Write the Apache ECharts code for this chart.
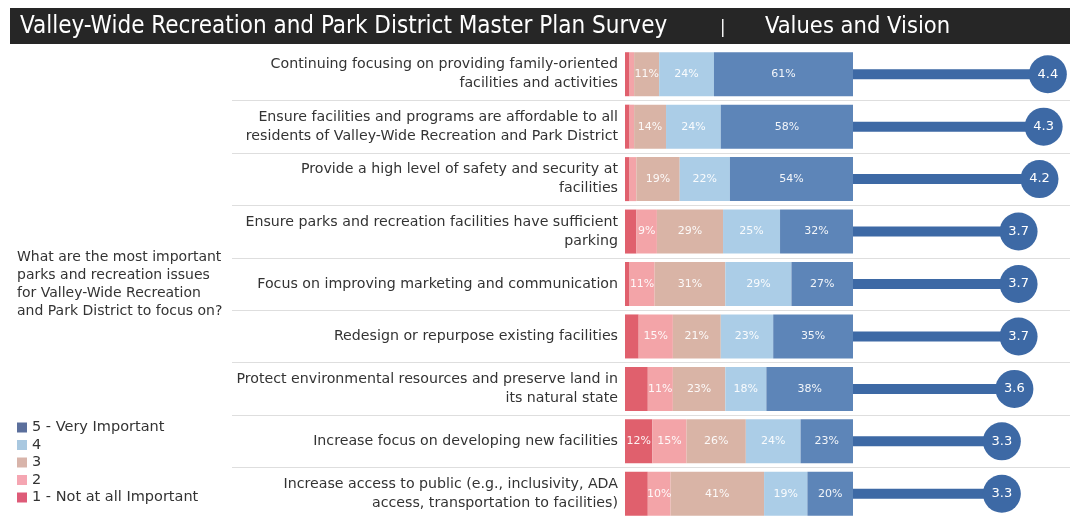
<!DOCTYPE html>
<html>
<head>
<meta charset="utf-8">
<script src="https://cdn.jsdelivr.net/npm/echarts@6/dist/echarts.min.js"></script>
<style>
  html, body { margin: 0; padding: 0; background: #fff; }
  #chart { width: 1070px; height: 520px; }
</style>
</head>
<body>
<div id="chart"></div>
<script>
// survey items, top to bottom
const issues = [
  'Continuing focusing on providing family-oriented\nfacilities and activities',
  'Ensure facilities and programs are affordable to all\nresidents of Valley-Wide Recreation and Park District',
  'Provide a high level of safety and security at\nfacilities',
  'Ensure parks and recreation facilities have sufficient\nparking',
  'Focus on improving marketing and communication',
  'Redesign or repurpose existing facilities',
  'Protect environmental resources and preserve land in\nits natural state',
  'Increase focus on developing new facilities',
  'Increase access to public (e.g., inclusivity, ADA\naccess, transportation to facilities)'
];
// percent of answers per rating
const notImportant  = [2, 2, 2, 5, 2, 6, 10, 12, 10];
const rating2       = [2, 2, 3, 9, 11, 15, 11, 15, 10];
const rating3       = [11, 14, 19, 29, 31, 21, 23, 26, 41];
const rating4       = [24, 24, 22, 25, 29, 23, 18, 24, 19];
const veryImportant = [61, 58, 54, 32, 27, 35, 38, 23, 20];
// mean rating
const means = [4.4, 4.3, 4.2, 3.7, 3.7, 3.7, 3.6, 3.3, 3.3];

const ratingNames = ['1 - Not at all Important', '2', '3', '4', '5 - Very Important'];
const ratingData = [notImportant, rating2, rating3, rating4, veryImportant];
const ratingColors = ['#e0606d', '#f3a4a8', '#d9b4a6', '#abcde7', '#5d85b8'];
const legendColors = ['#de5b78', '#f5a6b2', '#d8b4aa', '#a9c8e0', '#5b6f9c'];
const labelMin = [11, 9, 9, 9, 9];
const navy = '#3d69a5';
const stickFrom = -0.26;
const textFont = '"DejaVu Sans", sans-serif';
const headFont = '"Liberation Sans Narrow", "DejaVu Sans Condensed", sans-serif';

const chart = echarts.init(document.getElementById('chart'));

const barSeries = ratingData.map((vals, i) => ({
  name: ratingNames[i],
  type: 'bar',
  stack: 'pct',
  xAxisIndex: 0,
  yAxisIndex: 0,
  barWidth: 44,
  itemStyle: { color: ratingColors[i] },
  label: {
    show: true,
    color: 'rgba(255,255,255,0.92)',
    fontSize: 11,
    fontFamily: textFont,
    formatter: p => (p.value >= labelMin[i] ? p.value + '%' : '')
  },
  data: vals
}));

chart.setOption({
  animation: false,
  graphic: [
    { type: 'rect', shape: { x: 10, y: 8, width: 1060, height: 36 }, style: { fill: '#262626' } },
    { type: 'text', x: 20, y: 27, style: { text: 'Valley-Wide Recreation and Park District Master Plan Survey', fill: '#fff', font: '24px ' + headFont, verticalAlign: 'middle' } },
    { type: 'text', x: 720, y: 28, style: { text: '|', fill: '#fff', font: '18px ' + headFont, verticalAlign: 'middle' } },
    { type: 'text', x: 765, y: 27, style: { text: 'Values and Vision', fill: '#fff', font: '23.5px ' + headFont, verticalAlign: 'middle' } },
    { type: 'text', x: 17, y: 248, style: { text: 'What are the most important\nparks and recreation issues\nfor Valley-Wide Recreation\nand Park District to focus on?', fill: '#333', font: '14px ' + textFont, lineHeight: 18 } }
  ],
  legend: {
    orient: 'vertical',
    left: 17,
    top: 420,
    padding: 0,
    itemWidth: 10,
    itemHeight: 10,
    itemGap: 2.5,
    icon: 'rect',
    selectedMode: false,
    textStyle: { color: '#333', fontSize: 14.5, lineHeight: 14, fontFamily: textFont },
    data: ratingNames.slice().reverse().map(n => ({ name: n, itemStyle: { color: legendColors[ratingNames.indexOf(n)] } }))
  },
  grid: [
    { left: 625, width: 228, top: 48, height: 472 },
    { left: 853, right: 0, top: 48, height: 472 },
    { left: 232, right: 0, top: 48, height: 472 }
  ],
  xAxis: [
    { type: 'value', gridIndex: 0, min: 0, max: 100, show: false },
    { type: 'value', gridIndex: 1, min: stickFrom, max: 4.93, show: false },
    { type: 'value', gridIndex: 2, min: 0, max: 1, show: false }
  ],
  yAxis: [
    {
      type: 'category', gridIndex: 0, data: issues, inverse: true,
      axisLine: { show: false }, axisTick: { show: false },
      axisLabel: { margin: 7, color: '#333', fontSize: 14.2, fontFamily: textFont, lineHeight: 19, align: 'right' }
    },
    { type: 'category', gridIndex: 1, data: issues, inverse: true, show: false },
    {
      type: 'category', gridIndex: 2, data: issues, inverse: true, z: 0,
      axisLine: { show: false }, axisTick: { show: false }, axisLabel: { show: false },
      splitLine: { show: true, interval: i => i > 0, lineStyle: { color: '#dedede', width: 1 } }
    }
  ],
  series: barSeries.concat([
    {
      type: 'custom',
      xAxisIndex: 1,
      yAxisIndex: 1,
      renderItem: (params, api) => {
        const start = api.coord([stickFrom, api.value(1)]);
        const end = api.coord([api.value(0), api.value(1)]);
        return { type: 'rect', shape: { x: start[0], y: start[1] - 5, width: end[0] - start[0], height: 10 }, style: { fill: navy } };
      },
      encode: { x: 0, y: 1 },
      data: means.map((m, i) => [m, i])
    },
    {
      type: 'scatter',
      xAxisIndex: 1,
      yAxisIndex: 1,
      symbolSize: 38,
      itemStyle: { color: navy, opacity: 1 },
      label: { show: true, position: 'inside', color: '#fff', fontSize: 13, fontFamily: textFont, formatter: p => p.value[0].toFixed(1) },
      data: means.map((m, i) => [m, i]),
      z: 5
    }
  ])
});
</script>
</body>
</html>
